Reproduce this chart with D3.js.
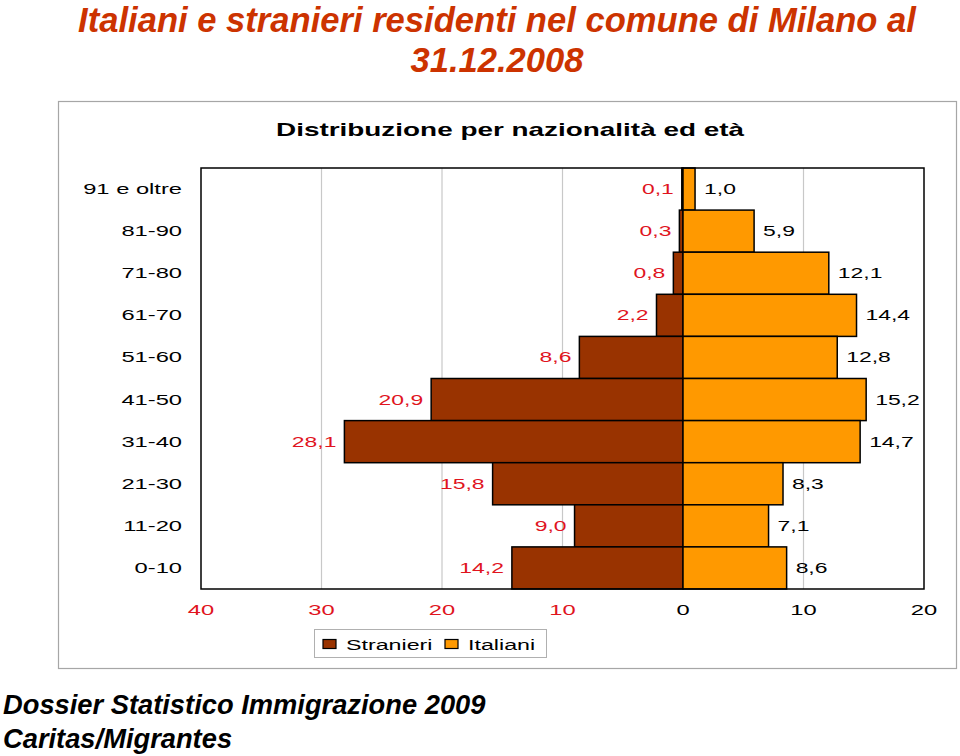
<!DOCTYPE html>
<html><head><meta charset="utf-8">
<script src="https://cdn.jsdelivr.net/npm/d3@7"></script>
<style>
html,body{margin:0;padding:0;background:#fff;}
svg{display:block;}
text{font-family:"Liberation Sans",Arial,Helvetica,sans-serif;}
</style></head>
<body>
<svg id="c" width="960" height="756"></svg>
<script>
const categories = ["91 e oltre","81-90","71-80","61-70","51-60","41-50","31-40","21-30","11-20","0-10"];
const stranieri = [0.1,0.3,0.8,2.2,8.6,20.9,28.1,15.8,9.0,14.2];
const italiani  = [1.0,5.9,12.1,14.4,12.8,15.2,14.7,8.3,7.1,8.6];
const tickValues = [-40,-30,-20,-10,0,10,20];
const seriesNames = ["Stranieri","Italiani"];
const titleLines = ["Italiani e stranieri residenti nel comune di Milano al","31.12.2008"];
const subtitle = "Distribuzione per nazionalità ed età";
const footerLines = ["Dossier Statistico Immigrazione 2009","Caritas/Migrantes"];

const colStr = "#993300", colIta = "#ff9900", red = "#e0141e", titleCol = "#cc3300";
const SX = 1.58; // horizontal stretch of chart text

const svg = d3.select("#c");
const itLocale = d3.formatLocale({decimal:",",thousands:".",grouping:[3],currency:["","€"]});
const fmt = itLocale.format(".1f");

function stext(g, x, y, str, opts){
  const t = g.append("g").attr("transform",`translate(${x},${y})`)
    .append("text").attr("transform",`scale(${opts.sx||SX},1)`)
    .attr("text-anchor",opts.anchor||"start")
    .attr("font-size",opts.size||14.5)
    .attr("font-weight",opts.weight||"normal")
    .attr("fill",opts.fill||"#000")
    .text(str);
  return t;
}

// Title
svg.selectAll("text.title").data(titleLines).enter().append("text")
  .attr("class","title")
  .attr("x",497).attr("y",(d,i)=>32+i*40)
  .attr("text-anchor","middle")
  .attr("font-size",34.6).attr("font-weight","bold").attr("font-style","italic")
  .attr("fill",titleCol).text(d=>d);

// Footer
svg.selectAll("text.foot").data(footerLines).enter().append("text")
  .attr("class","foot")
  .attr("x",3).attr("y",(d,i)=>714+i*34)
  .attr("font-size",27.3).attr("font-weight","bold").attr("font-style","italic")
  .attr("fill","#000").text(d=>d);

// Chart outer box
svg.append("rect").attr("x",58.5).attr("y",101.5).attr("width",898).attr("height",567)
  .attr("fill","#fff").attr("stroke","#a6a6a6").attr("stroke-width",1.2);

stext(svg, 510, 136, subtitle, {size:18, weight:"bold", anchor:"middle", sx:1.55});

const L=201, R=924, T=168, B=589;
const x = d3.scaleLinear().domain([-40,20]).range([L,R]);
const y = d3.scaleBand().domain(categories).range([T,B]).padding(0);

const plot = svg.append("g");
// gridlines
plot.selectAll("line.grid").data(tickValues.filter(v=>v!==0 && v!==-40 && v!==20)).enter()
  .append("line").attr("x1",d=>x(d)).attr("x2",d=>x(d)).attr("y1",T).attr("y2",B)
  .attr("stroke","#c8c8c8").attr("stroke-width",1.2);

// bars
plot.selectAll("rect.str").data(stranieri).enter().append("rect")
  .attr("x",d=>x(-d)).attr("y",(d,i)=>y(categories[i]))
  .attr("width",d=>x(0)-x(-d)).attr("height",y.bandwidth())
  .attr("fill",colStr).attr("stroke","#000").attr("stroke-width",1.5);
plot.selectAll("rect.ita").data(italiani).enter().append("rect")
  .attr("x",x(0)).attr("y",(d,i)=>y(categories[i]))
  .attr("width",d=>x(d)-x(0)).attr("height",y.bandwidth())
  .attr("fill",colIta).attr("stroke","#000").attr("stroke-width",1.5);

// plot border
plot.append("rect").attr("x",L).attr("y",T).attr("width",R-L).attr("height",B-T)
  .attr("fill","none").attr("stroke","#000").attr("stroke-width",1.5);

// labels
stranieri.forEach((v,i)=>{
  stext(plot, x(-v)-8, y(categories[i])+y.bandwidth()/2+5, fmt(v), {anchor:"end", fill:red});
});
italiani.forEach((v,i)=>{
  stext(plot, x(v)+9, y(categories[i])+y.bandwidth()/2+5, fmt(v), {anchor:"start", fill:"#000"});
});

// category axis labels
categories.forEach(c=>{
  stext(plot, 182, y(c)+y.bandwidth()/2+5, c, {anchor:"end", fill:"#000", size:15});
});

// x tick labels
tickValues.forEach(v=>{
  stext(plot, x(v), 615, String(Math.abs(v)), {anchor:"middle", fill: v<0 ? red : "#000", size:15});
});

// legend
const lg = svg.append("g");
lg.append("rect").attr("x",314.5).attr("y",629.5).attr("width",232).attr("height",28)
  .attr("fill","#fff").attr("stroke","#b0b0b0").attr("stroke-width",1);
const legX = [323, 445];
seriesNames.forEach((n,i)=>{
  lg.append("rect").attr("x",legX[i]).attr("y",639.5).attr("width",13).attr("height",9)
    .attr("fill",i===0?colStr:colIta).attr("stroke","#000").attr("stroke-width",1.2);
  stext(lg, legX[i]+23, 649.5, n, {size:15, fill:"#000", sx:1.55});
});
</script>
</body></html>
